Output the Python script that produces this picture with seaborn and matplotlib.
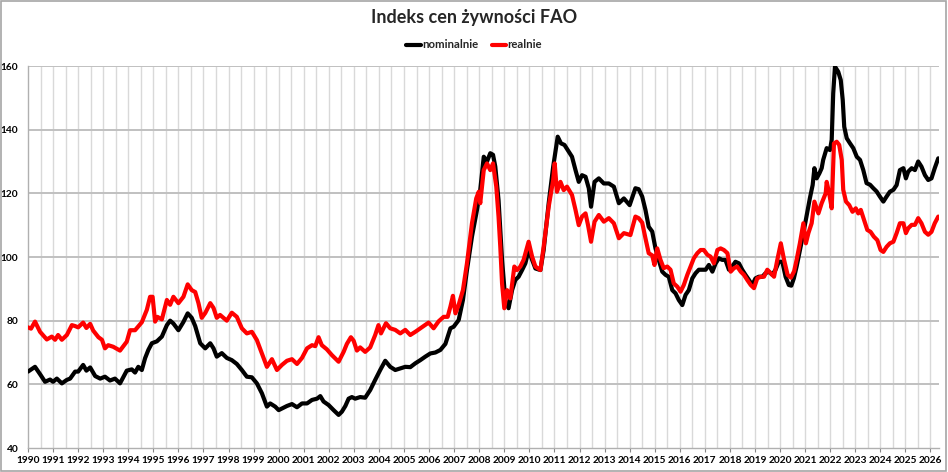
import matplotlib
matplotlib.use("Agg")
import matplotlib.pyplot as plt
from matplotlib.lines import Line2D
from matplotlib.patches import Rectangle
import numpy as np
import pandas as pd
import seaborn as sns

# ---------------- data ----------------
nominal_t = [1990.0, 1990.28, 1990.48, 1990.68, 1990.88, 1991.0, 1991.15, 1991.35, 1991.55, 1991.68,
             1991.88, 1992.0, 1992.2, 1992.33, 1992.48, 1992.68, 1992.88, 1993.07, 1993.27, 1993.47,
             1993.67, 1993.94, 1994.14, 1994.27, 1994.4, 1994.54, 1994.67, 1994.8, 1994.94, 1995.14,
             1995.34, 1995.54, 1995.67, 1995.8, 1996.0, 1996.2, 1996.37, 1996.53, 1996.67, 1996.87,
             1997.07, 1997.27, 1997.4, 1997.53, 1997.73, 1997.93, 1998.13, 1998.33, 1998.53, 1998.73,
             1998.93, 1999.13, 1999.33, 1999.53, 1999.66, 1999.86, 2000.0, 2000.13, 2000.33, 2000.53,
             2000.73, 2000.93, 2001.13, 2001.33, 2001.53, 2001.66, 2001.79, 2001.99, 2002.19, 2002.39,
             2002.52, 2002.66, 2002.79, 2002.92, 2003.05, 2003.25, 2003.45, 2003.65, 2003.85, 2004.05,
             2004.25, 2004.45, 2004.65, 2004.85, 2005.05, 2005.25, 2005.45, 2005.65, 2005.85, 2006.05,
             2006.25, 2006.45, 2006.65, 2006.85, 2006.98, 2007.18, 2007.35, 2007.51, 2007.71, 2007.91,
             2008.04, 2008.18, 2008.31, 2008.44, 2008.55, 2008.64, 2008.77, 2008.91, 2009.04, 2009.17,
             2009.31, 2009.44, 2009.57, 2009.71, 2009.84, 2009.97, 2010.11, 2010.24, 2010.44, 2010.57,
             2010.77, 2010.95, 2011.13, 2011.26, 2011.4, 2011.57, 2011.7, 2011.84, 2011.97, 2012.1,
             2012.24, 2012.37, 2012.46, 2012.6, 2012.77, 2012.97, 2013.17, 2013.37, 2013.57, 2013.77,
             2014.0, 2014.23, 2014.36, 2014.5, 2014.63, 2014.76, 2014.9, 2015.03, 2015.16, 2015.3,
             2015.43, 2015.56, 2015.7, 2015.83, 2015.96, 2016.1, 2016.23, 2016.36, 2016.5, 2016.63,
             2016.76, 2016.9, 2017.03, 2017.16, 2017.3, 2017.43, 2017.56, 2017.69, 2017.82, 2017.96,
             2018.09, 2018.22, 2018.36, 2018.49, 2018.62, 2018.76, 2018.89, 2019.02, 2019.15, 2019.29,
             2019.42, 2019.55, 2019.69, 2019.82, 2019.95, 2020.09, 2020.22, 2020.35, 2020.45, 2020.55,
             2020.66, 2020.79, 2020.93, 2021.06, 2021.19, 2021.3, 2021.37, 2021.46, 2021.57, 2021.66,
             2021.72, 2021.86, 2021.99, 2022.06, 2022.12, 2022.19, 2022.32, 2022.42, 2022.5, 2022.56,
             2022.66, 2022.79, 2022.92, 2023.06, 2023.19, 2023.32, 2023.45, 2023.59, 2023.72, 2023.85,
             2023.98, 2024.12, 2024.25, 2024.38, 2024.52, 2024.65, 2024.78, 2024.92, 2025.02, 2025.11,
             2025.25, 2025.38, 2025.51, 2025.64, 2025.78, 2025.91, 2026.04, 2026.17, 2026.31]
nominal_v = [64.0, 65.5, 63.2, 60.8, 61.5, 60.8, 61.8, 60.3, 61.4, 61.8,
             64.0, 64.0, 66.1, 64.3, 65.3, 62.6, 61.8, 62.4, 61.2, 61.8,
             60.3, 64.3, 64.7, 63.7, 65.5, 64.5, 68.2, 70.8, 72.9, 73.5,
             75.0, 78.6, 80.0, 79.1, 77.0, 79.6, 82.3, 80.9, 78.3, 72.9,
             71.3, 72.9, 71.3, 68.7, 69.8, 68.3, 67.6, 66.4, 64.5, 62.4,
             62.2, 60.3, 57.2, 53.0, 54.0, 53.0, 51.9, 52.4, 53.2, 53.8,
             52.8, 54.0, 54.0, 55.1, 55.5, 56.3, 54.6, 53.5, 51.9, 50.4,
             51.4, 53.2, 55.5, 56.0, 55.5, 56.0, 55.8, 58.2, 61.4, 64.5,
             67.4, 65.5, 64.5, 65.0, 65.5, 65.4, 66.6, 67.6, 68.7, 69.7,
             70.0, 70.8, 72.7, 77.6, 78.1, 80.2, 86.5, 95.9, 106.4, 114.8,
             121.1, 131.5, 130.0, 132.6, 132.1, 128.4, 117.9, 99.1, 86.5, 83.9,
             89.6, 92.8, 93.8, 95.9, 98.0, 102.2, 99.1, 96.4, 95.9, 102.2,
             116.9, 128.4, 137.8, 135.7, 135.2, 133.1, 131.5, 127.3, 123.6, 125.7,
             125.2, 121.6, 115.8, 123.6, 124.7, 123.1, 123.1, 122.1, 116.9, 118.4,
             116.3, 121.6, 121.3, 119.0, 114.8, 109.5, 108.0, 102.7, 99.1, 95.4,
             94.4, 93.8, 89.6, 88.6, 86.5, 84.9, 88.1, 89.6, 93.3, 94.9,
             96.0, 96.0, 96.0, 97.5, 95.4, 98.0, 99.6, 99.1, 99.1, 96.0,
             97.0, 98.5, 98.0, 96.0, 94.4, 92.8, 91.2, 93.3, 93.8, 93.8,
             94.9, 95.4, 94.4, 96.0, 98.5, 98.5, 93.8, 91.2, 91.0, 93.3,
             97.0, 102.0, 107.5, 113.0, 118.5, 122.6, 127.9, 124.7, 126.3, 127.9,
             130.5, 134.2, 133.6, 136.8, 151.4, 159.8, 158.2, 155.6, 149.3, 140.9,
             137.3, 135.7, 134.2, 131.5, 130.5, 127.3, 123.2, 122.7, 121.6, 120.6,
             119.0, 117.4, 119.0, 120.5, 121.1, 122.6, 127.3, 127.9, 124.7, 126.8,
             127.9, 127.3, 130.0, 128.4, 125.7, 124.2, 124.7, 127.9, 131.0]

real_t = [1990.0, 1990.12, 1990.28, 1990.48, 1990.75, 1990.95, 1991.08, 1991.2, 1991.35, 1991.55,
          1991.75, 1991.88, 1992.0, 1992.2, 1992.33, 1992.48, 1992.6, 1992.81, 1992.95, 1993.07,
          1993.2, 1993.4, 1993.67, 1993.94, 1994.07, 1994.27, 1994.4, 1994.54, 1994.74, 1994.87,
          1994.97, 1995.07, 1995.16, 1995.34, 1995.54, 1995.67, 1995.8, 1996.0, 1996.2, 1996.37,
          1996.53, 1996.67, 1996.8, 1996.93, 1997.07, 1997.27, 1997.4, 1997.53, 1997.66, 1997.93,
          1998.13, 1998.33, 1998.53, 1998.73, 1998.93, 1999.13, 1999.33, 1999.53, 1999.73, 1999.93,
          2000.13, 2000.33, 2000.53, 2000.73, 2000.93, 2001.13, 2001.33, 2001.46, 2001.59, 2001.72,
          2001.92, 2002.12, 2002.39, 2002.59, 2002.72, 2002.88, 2002.99, 2003.12, 2003.25, 2003.45,
          2003.65, 2003.85, 2003.98, 2004.08, 2004.28, 2004.45, 2004.65, 2004.85, 2005.05, 2005.25,
          2005.45, 2005.65, 2005.98, 2006.18, 2006.38, 2006.58, 2006.74, 2006.85, 2006.95, 2007.05,
          2007.18, 2007.35, 2007.51, 2007.71, 2007.88, 2007.98, 2008.04, 2008.18, 2008.31, 2008.44,
          2008.55, 2008.68, 2008.77, 2008.84, 2008.91, 2009.0, 2009.11, 2009.24, 2009.4, 2009.51,
          2009.64, 2009.77, 2009.97, 2010.11, 2010.24, 2010.44, 2010.57, 2010.77, 2010.95, 2011.01,
          2011.1, 2011.24, 2011.37, 2011.5, 2011.7, 2011.84, 2011.97, 2012.1, 2012.24, 2012.34,
          2012.46, 2012.6, 2012.77, 2012.97, 2013.17, 2013.37, 2013.57, 2013.77, 2014.03, 2014.23,
          2014.36, 2014.5, 2014.63, 2014.76, 2014.9, 2014.99, 2015.1, 2015.23, 2015.36, 2015.5,
          2015.63, 2015.76, 2015.9, 2016.03, 2016.16, 2016.3, 2016.43, 2016.56, 2016.7, 2016.83,
          2016.96, 2017.1, 2017.23, 2017.36, 2017.5, 2017.63, 2017.76, 2017.9, 2018.03, 2018.16,
          2018.29, 2018.43, 2018.56, 2018.69, 2018.83, 2018.96, 2019.09, 2019.23, 2019.36, 2019.49,
          2019.63, 2019.76, 2019.89, 2020.03, 2020.16, 2020.3, 2020.43, 2020.56, 2020.66, 2020.79,
          2020.93, 2021.03, 2021.13, 2021.26, 2021.37, 2021.53, 2021.66, 2021.82, 2021.86, 2021.96,
          2022.06, 2022.15, 2022.26, 2022.36, 2022.46, 2022.52, 2022.63, 2022.76, 2022.89, 2023.02,
          2023.12, 2023.22, 2023.35, 2023.48, 2023.61, 2023.74, 2023.88, 2024.01, 2024.12, 2024.25,
          2024.38, 2024.52, 2024.65, 2024.78, 2024.92, 2025.02, 2025.11, 2025.25, 2025.38, 2025.51,
          2025.64, 2025.78, 2025.91, 2026.04, 2026.17, 2026.31]
real_v = [77.9, 77.5, 79.7, 76.5, 74.1, 75.0, 74.0, 75.5, 74.0, 75.5,
          78.6, 78.3, 77.9, 79.4, 77.7, 79.0, 76.9, 74.8, 74.0, 71.3,
          72.3, 71.8, 70.6, 73.4, 77.0, 77.0, 78.2, 79.5, 83.4, 87.5,
          87.5, 79.7, 81.2, 80.4, 86.5, 85.0, 87.5, 85.5, 87.5, 91.4,
          89.6, 89.0, 85.5, 80.9, 82.4, 85.5, 84.0, 80.9, 81.8, 80.0,
          82.5, 81.2, 77.6, 76.0, 76.5, 73.9, 69.7, 65.5, 67.9, 64.5,
          66.1, 67.4, 67.9, 66.4, 68.3, 71.3, 72.3, 72.0, 74.8, 72.3,
          71.0, 69.2, 67.1, 70.2, 72.7, 74.8, 73.7, 70.6, 71.6, 70.2,
          71.6, 75.5, 78.6, 76.0, 79.2, 77.6, 77.1, 76.0, 77.1, 75.5,
          76.5, 77.6, 79.4, 77.6, 79.8, 81.2, 81.2, 84.4, 87.8, 82.3,
          85.0, 89.6, 98.0, 110.6, 118.4, 120.5, 116.9, 127.3, 129.4, 127.3,
          129.4, 122.1, 112.7, 103.2, 91.7, 83.9, 89.6, 87.0, 97.0, 95.9,
          97.0, 99.1, 104.8, 100.1, 97.0, 95.9, 103.2, 115.8, 124.2, 129.4,
          120.5, 123.6, 121.0, 122.1, 119.5, 114.8, 110.0, 112.7, 113.7, 110.0,
          104.8, 111.1, 113.2, 111.1, 112.2, 110.6, 105.9, 107.5, 106.9, 112.7,
          112.2, 110.8, 105.9, 101.2, 100.5, 97.5, 102.7, 99.1, 96.5, 97.0,
          96.0, 91.7, 90.7, 89.1, 91.2, 94.4, 97.0, 99.6, 101.2, 102.2,
          102.2, 100.7, 100.1, 98.0, 102.2, 102.7, 102.2, 101.2, 95.4, 96.5,
          97.0, 95.4, 94.4, 92.8, 91.2, 90.2, 93.3, 93.8, 93.8, 96.0,
          94.9, 93.8, 99.1, 104.3, 99.1, 94.4, 93.5, 95.5, 99.1, 104.3,
          110.6, 104.3, 107.5, 110.6, 117.4, 113.7, 116.9, 120.0, 123.6, 120.0,
          115.3, 135.7, 136.2, 135.2, 130.5, 121.1, 117.4, 116.3, 114.2, 115.3,
          113.7, 114.8, 111.6, 108.5, 107.9, 106.4, 105.3, 102.2, 101.6, 103.2,
          104.3, 104.8, 107.5, 110.6, 110.6, 107.5, 109.0, 110.1, 110.1, 112.2,
          110.6, 107.9, 107.0, 107.9, 110.6, 112.7]

year_labels = [str(y) for y in range(1990, 2027)]
y_ticks = [40, 60, 80, 100, 120, 140, 160]

title = "Indeks cen żywności FAO"
series_names = ["nominalnie", "realnie"]
series_colors = ["#000000", "#ff0000"]

# ---------------- plotting ----------------
sns.set_theme(style="white")
plt.rcParams["font.family"] = ["Lato", "DejaVu Sans"]

W, H = 948, 472
fig = plt.figure(figsize=(W / 100, H / 100), dpi=100)
ax = fig.add_axes([28 / W, (H - 448) / H, (939 - 28) / W, (448 - 66) / H])

df_nom = pd.DataFrame({"t": nominal_t, "v": nominal_v})
df_real = pd.DataFrame({"t": real_t, "v": real_v})

sns.lineplot(data=df_nom, x="t", y="v", ax=ax, color=series_colors[0], lw=3.0,
             estimator=None, sort=False, zorder=3)
sns.lineplot(data=df_real, x="t", y="v", ax=ax, color=series_colors[1], lw=3.0,
             estimator=None, sort=False, zorder=4)

ax.set_xlim(1990, 2026.34)
ax.set_ylim(40, 160)

years = np.arange(1990, 2027)
ax.set_xticks(years)
ax.set_xticklabels(year_labels, fontsize=7.3, fontweight="bold")
ax.set_xticks(np.arange(1990.5, 2026.5, 1.0), minor=True)
ax.set_yticks(y_ticks)
ax.set_yticklabels([str(v) for v in y_ticks], fontsize=7.3, fontweight="bold")

ax.grid(False)
for x in np.arange(1990.5, 2026.5, 0.5):
    ax.axvline(x, color="#d9d9d9", lw=1.0, zorder=1)
for yv in y_ticks[1:]:
    ax.axhline(yv, color="#c0c0c0", lw=1.4, zorder=1)

ax.tick_params(axis="x", which="major", length=3, width=0.8, color="#868686", pad=3,
               labelcolor="black", direction="out", bottom=True)
ax.tick_params(axis="x", which="minor", length=0)
ax.tick_params(axis="y", length=0, pad=7, labelcolor="black")

for s in ["top", "right"]:
    ax.spines[s].set_visible(False)
ax.spines["left"].set_color("#b0b0b0")
ax.spines["bottom"].set_color("#b0b0b0")
ax.spines["left"].set_linewidth(1.0)
ax.spines["bottom"].set_linewidth(1.0)

ax.set_xlabel("")
ax.set_ylabel("")

fig.text(474 / W, 1 - 18 / H, title, ha="center", va="center",
         fontsize=13, fontweight="bold")

handles = [Line2D([0], [0], color=c, lw=3.0) for c in series_colors]
fig.legend(handles, series_names, loc="center", bbox_to_anchor=(474 / W, 1 - 45 / H),
           ncol=2, frameon=False, handlelength=1.3, handletextpad=0.1, columnspacing=1.2,
           prop={"weight": "bold", "size": 8.2})

fig.patches.append(Rectangle((0.001, 0.002), 0.997, 0.996, transform=fig.transFigure,
                             fill=False, edgecolor="#a6a6a6", lw=1.2))

fig.savefig("out.png", dpi=100)
